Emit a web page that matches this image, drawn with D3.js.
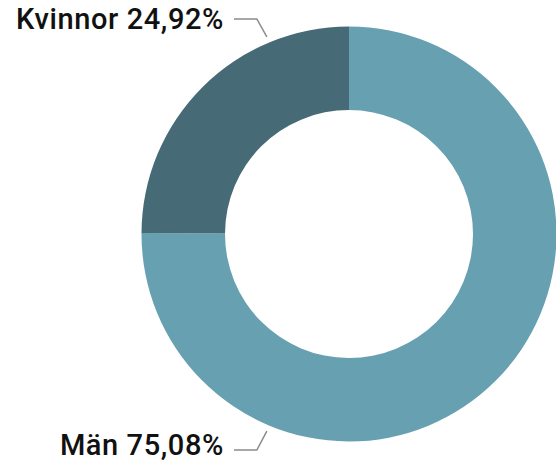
<!DOCTYPE html>
<html lang="sv">
<head>
<meta charset="UTF-8">
<title>Kön</title>
<script src="https://cdn.jsdelivr.net/npm/d3@7"></script>
<style>
    body { margin: 0; background: #fff; }
    svg { display: block; }
</style>
</head>
<body>
<script>
    // data
    var categories = ["Män", "Kvinnor"];
    var shares = [75.08, 24.92];
    var labels = ["Män 75,08%", "Kvinnor 24,92%"];
    var colors = ["#67a0b1", "#466b77"];

    var width = 556, height = 471;
    var cx = 349, cy = 234;
    var outerR = 207.5, innerR = 124;

    var svg = d3.select("body").append("svg")
        .attr("width", width)
        .attr("height", height);

    var pie = d3.pie().sort(null).value(function (d) { return d; });
    var arc = d3.arc().innerRadius(innerR).outerRadius(outerR);

    var g = svg.append("g")
        .attr("transform", "translate(" + cx + "," + cy + ")");

    g.selectAll("path.slice")
        .data(pie(shares))
        .enter().append("path")
        .attr("class", "slice")
        .attr("d", arc)
        .attr("fill", function (d, i) { return colors[i]; });

    // label layout: leader starts just outside the ring, elbow, then horizontal to the text
    var labelLayout = [
        {angle: Math.PI + 0.395, lineY: 450, textY: 455},   // Män (bottom)
        {angle: -0.395, lineY: 19, textY: 29}               // Kvinnor (top)
    ];
    var textEndX = 224, lineEndX = 234, elbowDX = 10;

    labels.forEach(function (txt, i) {
        var L = labelLayout[i];
        var r0 = outerR + 6;
        var x0 = cx + r0 * Math.sin(L.angle);
        var y0 = cy - r0 * Math.cos(L.angle);
        var elbowX = x0 - elbowDX;
        svg.append("path")
            .attr("d", d3.line()([[x0, y0], [elbowX, L.lineY], [lineEndX, L.lineY]]))
            .attr("fill", "none")
            .attr("stroke", "#8a8a8a")
            .attr("stroke-width", 1.5);
        svg.append("text")
            .attr("x", textEndX)
            .attr("y", L.textY)
            .attr("text-anchor", "end")
            .attr("font-family", "Roboto, 'Noto Sans', sans-serif")
            .attr("font-weight", 500)
            .attr("font-size", 29)
            .attr("letter-spacing", 0.6)
            .attr("fill", "#111")
            .text(txt);
    });
</script>
</body>
</html>
